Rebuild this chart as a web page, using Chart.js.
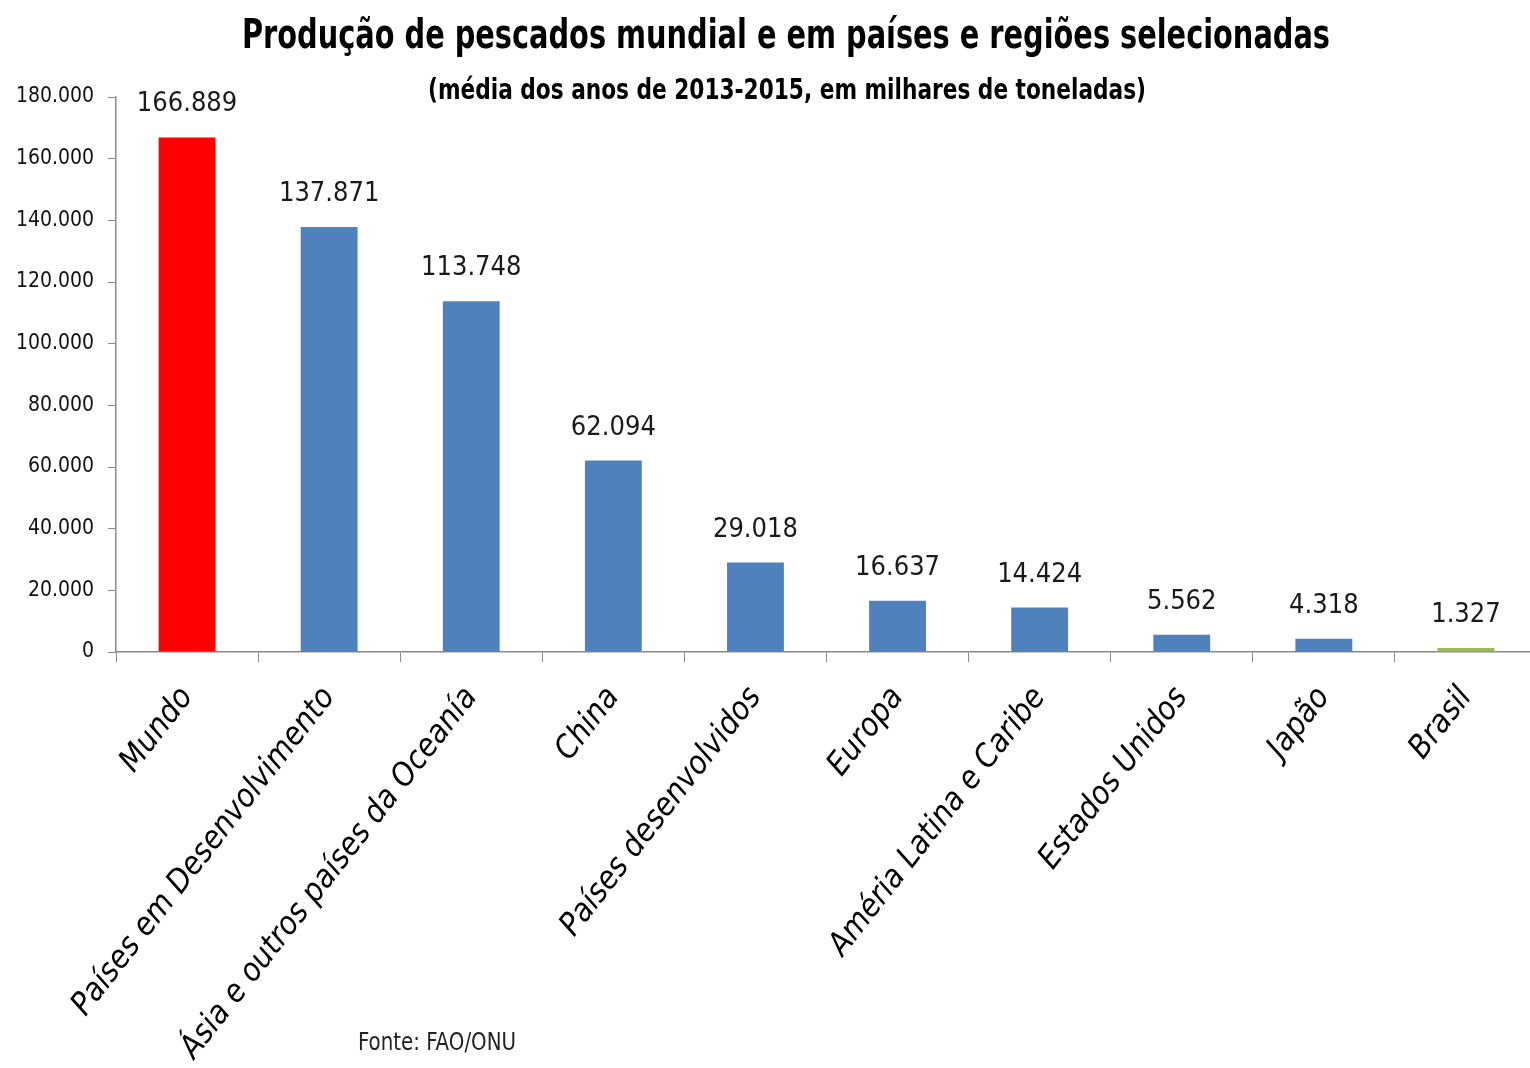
<!DOCTYPE html>
<html>
<head>
<meta charset="utf-8">
<script src="https://cdn.jsdelivr.net/npm/chart.js@4.4.0/dist/chart.umd.min.js"></script>
<style>
  html, body { margin: 0; padding: 0; background: #fff; overflow: hidden; }
  #wrap { width: 1530px; height: 1068px; position: relative; overflow: hidden; }
</style>
</head>
<body>
<div id="wrap"><canvas id="grafico" width="1537" height="1068"></canvas></div>
<script>
// dados (milhares de toneladas, média 2013-2015)
const categorias = ['Mundo', 'Países em Desenvolvimento', 'Ásia e outros países da Oceanía', 'China',
  'Países desenvolvidos', 'Europa', 'Améria Latina e Caribe', 'Estados Unidos', 'Japão', 'Brasil'];
const producao = [166889, 137871, 113748, 62094, 29018, 16637, 14424, 5562, 4318, 1327];
const coresBarras = ['#FF0000', '#4F81BD', '#4F81BD', '#4F81BD', '#4F81BD', '#4F81BD', '#4F81BD', '#4F81BD', '#4F81BD', '#9BBB59'];
const ticksY = [0, 20000, 40000, 60000, 80000, 100000, 120000, 140000, 160000, 180000];

const titulo = 'Produção de pescados mundial e em países e regiões selecionadas';
const subtitulo = '(média dos anos de 2013-2015, em milhares de toneladas)';
const fonte = 'Fonte: FAO/ONU';

const FONTE = '"Liberation Sans Narrow", "DejaVu Sans Condensed", "Open Sans", sans-serif';

function fmt(v) {
  return v.toString().replace(/\B(?=(\d{3})+(?!\d))/g, '.');
}

// textos e rótulos de valor
const textosPlugin = {
  id: 'textos',
  afterDraw(chart) {
    const ctx = chart.ctx;
    ctx.save();
    ctx.fillStyle = '#000';
    ctx.textAlign = 'center';
    ctx.textBaseline = 'middle';
    ctx.font = 'bold 40px ' + FONTE;
    ctx.fillText(titulo, 786, 38, 1088);
    ctx.font = 'bold 29px ' + FONTE;
    ctx.fillText(subtitulo, 787, 91, 718);

    // valores acima das barras
    const meta = chart.getDatasetMeta(0);
    ctx.font = '27px ' + FONTE;
    ctx.fillStyle = '#1a1a1a';
    ctx.textBaseline = 'alphabetic';
    meta.data.forEach((bar, i) => {
      ctx.fillText(fmt(producao[i]), bar.x, bar.y - 26);
    });

    ctx.textAlign = 'left';
    ctx.font = '24px ' + FONTE;
    ctx.fillStyle = '#222';
    ctx.fillText(fonte, 358, 1050, 158);
    ctx.restore();
  }
};

const canvas = document.getElementById('grafico');
const ctx = canvas.getContext('2d');

new Chart(ctx, {
  type: 'bar',
  data: {
    labels: categorias,
    datasets: [{
      data: producao,
      backgroundColor: coresBarras,
      borderWidth: 0,
      barPercentage: 0.4,
      categoryPercentage: 1.0
    }]
  },
  options: {
    responsive: false,
    animation: false,
    layout: { padding: { top: 97, right: 0, left: 0, bottom: 0 } },
    plugins: {
      legend: { display: false },
      tooltip: { enabled: false }
    },
    scales: {
      x: {
        offset: true,
        grid: {
          display: true,
          drawOnChartArea: false,
          drawTicks: true,
          tickLength: 10,
          color: '#898989',
          offset: true
        },
        border: { color: '#898989', width: 1.5 },
        ticks: {
          minRotation: 52,
          maxRotation: 52,
          autoSkip: false,
          color: '#000',
          padding: 18,
          font: { family: FONTE, size: 32, style: 'italic' }
        },
        afterFit(scale) { scale.height = 1068 - 97 - 555; }
      },
      y: {
        min: 0,
        max: 180000,
        afterBuildTicks(scale) { scale.ticks = ticksY.map(v => ({ value: v })); },
        grid: {
          display: true,
          drawOnChartArea: false,
          drawTicks: true,
          tickLength: 8,
          color: '#898989'
        },
        border: { color: '#898989', width: 1.5 },
        ticks: {
          color: '#111',
          padding: 14,
          font: { family: FONTE, size: 21 },
          callback: v => fmt(v)
        },
        afterFit(scale) { scale.width = 116; }
      }
    }
  },
  plugins: [textosPlugin]
});
</script>
</body>
</html>
